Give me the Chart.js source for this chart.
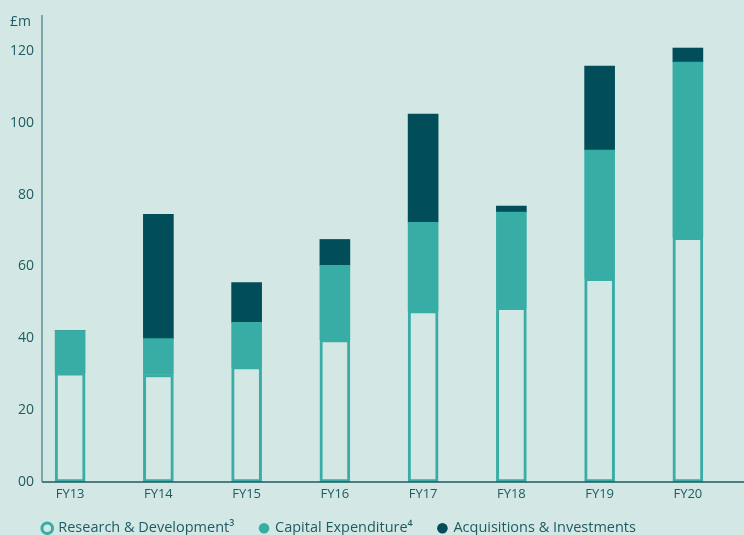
<!DOCTYPE html>
<html>
<head>
<meta charset="utf-8">
<script src="https://cdn.jsdelivr.net/npm/chart.js@4.4.0/dist/chart.umd.min.js"></script>
<style>
  html, body { margin: 0; padding: 0; background: #d3e8e4; }
  #wrap { width: 744px; height: 535px; }
</style>
</head>
<body>
<div id="wrap"><canvas id="myChart" width="744" height="535"></canvas></div>
<script>
var years = ['FY13', 'FY14', 'FY15', 'FY16', 'FY17', 'FY18', 'FY19', 'FY20'];
var researchDev = [30.4, 29.9, 32.1, 39.6, 47.7, 48.6, 56.7, 68.1];
var capex = [11.7, 10.0, 12.3, 20.7, 24.6, 26.5, 35.7, 48.8];
var acquisitions = [0, 34.6, 11.1, 7.2, 30.1, 1.7, 23.4, 3.9];
var yTicks = [0, 20, 40, 60, 80, 100, 120];

var bg = '#d3e8e4';
var teal = '#38ada5';
var dark = '#014d59';
var textCol = '#1e5a63';
var fontFam = '"Open Sans", "Noto Sans", sans-serif';

// background, axis lines, unit label and legend placement
var decor = {
  id: 'decor',
  afterLayout: function(chart) {
    // legend sits under the plot, starting at the y axis
    chart.legend.left = 17.5;
    chart.legend.top = 495;
  },
  beforeDraw: function(chart) {
    var c = chart.ctx;
    c.save();
    c.fillStyle = bg;
    c.fillRect(0, 0, chart.width, chart.height);
    c.restore();
  },
  afterDatasetsDraw: function(chart) {
    var c = chart.ctx;
    var area = chart.chartArea;
    c.save();
    c.strokeStyle = '#5f9097';
    c.lineWidth = 1.5;
    c.beginPath();
    c.moveTo(42, area.top);
    c.lineTo(42, area.bottom);
    c.stroke();
    c.strokeStyle = '#1e5a63';
    c.beginPath();
    c.moveTo(42, area.bottom);
    c.lineTo(chart.width, area.bottom);
    c.stroke();
    c.fillStyle = textCol;
    c.font = '14px ' + fontFam;
    c.textAlign = 'left';
    c.textBaseline = 'middle';
    c.fillText('£m', 10, 22);
    c.restore();
  }
};

var ctx = document.getElementById('myChart').getContext('2d');
var myChart = new Chart(ctx, {
  type: 'bar',
  data: {
    labels: years,
    datasets: [{
      label: 'Research & Development³',
      data: researchDev,
      backgroundColor: bg,
      borderColor: teal,
      borderWidth: 3,
      borderSkipped: false,
      barThickness: 30
    }, {
      label: 'Capital Expenditure⁴',
      data: capex,
      backgroundColor: teal,
      borderColor: teal,
      borderWidth: 0,
      barThickness: 30
    }, {
      label: 'Acquisitions & Investments',
      data: acquisitions,
      backgroundColor: dark,
      borderColor: dark,
      borderWidth: 0,
      barThickness: 30
    }]
  },
  options: {
    responsive: false,
    animation: false,
    layout: { padding: { top: 15, right: 12, left: 0, bottom: -23 } },
    plugins: {
      tooltip: { enabled: false },
      legend: {
        position: 'bottom',
        align: 'start',
        labels: {
          usePointStyle: true,
          pointStyle: 'circle',
          boxWidth: 7.5,
          boxHeight: 7.5,
          padding: 26,
          color: textCol,
          font: { family: fontFam, size: 14.5 }
        }
      }
    },
    scales: {
      x: {
        stacked: true,
        grid: { display: false, drawTicks: false },
        border: { display: false },
        ticks: {
          color: textCol,
          padding: 5,
          font: { family: fontFam, size: 13 }
        }
      },
      y: {
        stacked: true,
        min: 0,
        max: 130,
        afterFit: function(scale) {
          scale.width = 26;
          // let the labels spill past the narrow axis box
          scale._computeLabelArea = function() { return undefined; };
        },
        afterBuildTicks: function(scale) {
          scale.ticks = yTicks.map(function(v) { return { value: v }; });
        },
        grid: { display: false, drawTicks: false },
        border: { display: false },
        ticks: {
          color: textCol,
          padding: -8,
          font: { family: fontFam, size: 14 },
          callback: function(v) { return v === 0 ? '00' : v; }
        }
      }
    }
  },
  plugins: [decor]
});
</script>
</body>
</html>
